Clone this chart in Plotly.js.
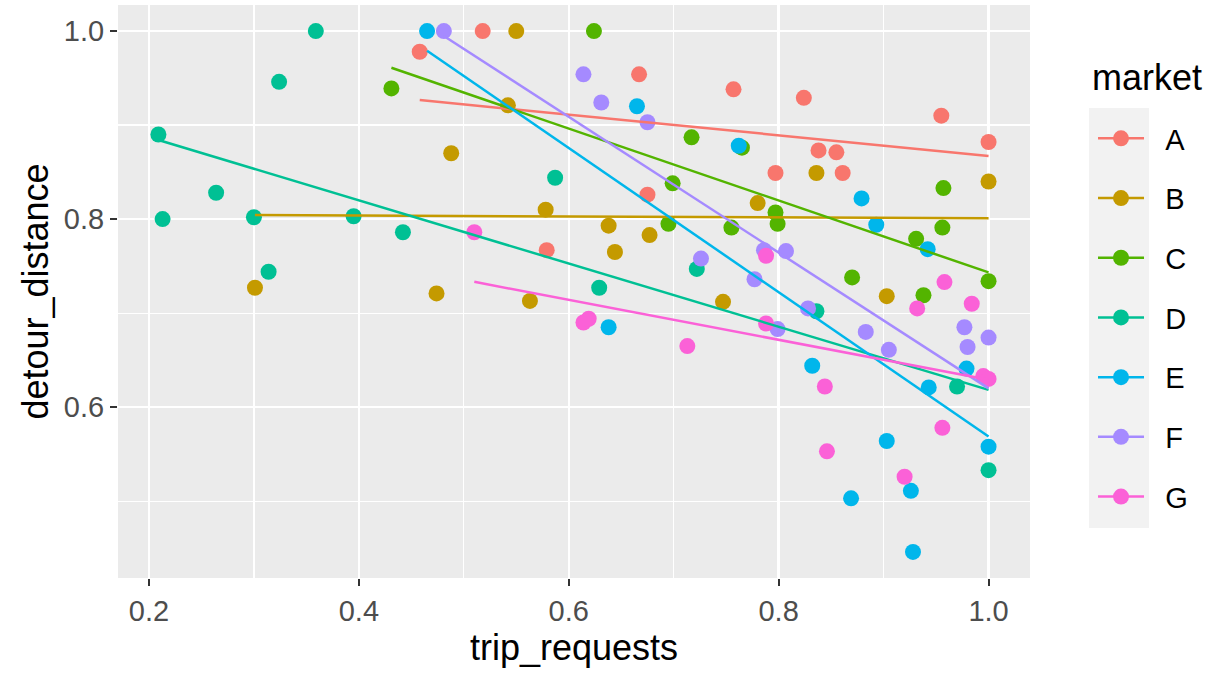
<!DOCTYPE html>
<html>
<head>
<meta charset="utf-8">
<script src="https://cdn.plot.ly/plotly-3.0.1.min.js"></script>
<style>html,body{margin:0;padding:0;background:#fff;}#chart{width:1216px;height:673px;}</style>
</head>
<body>
<div id="chart"></div>
<script>
const markets = ["A","B","C","D","E","F","G"];
const colors = ["#F8766D","#C49A00","#53B400","#00C094","#00B6EB","#A58AFF","#FB61D7"];

const xA = [0.458,0.518,0.667,0.757,0.675,0.579,0.824,0.955,1.0,0.838,0.855,0.797,0.861];
const yA = [0.978,1.0,0.954,0.938,0.826,0.767,0.929,0.910,0.882,0.873,0.871,0.849,0.849];

const xB = [0.301,0.550,0.542,0.488,0.578,0.638,0.677,0.644,0.474,0.563,0.747,0.836,1.0,0.780,0.903];
const yB = [0.727,1.0,0.921,0.870,0.810,0.793,0.783,0.765,0.721,0.713,0.712,0.849,0.840,0.817,0.718];

const xC = [0.431,0.624,0.717,0.699,0.695,0.755,0.765,0.957,0.797,0.799,0.956,0.931,1.0,0.870,0.938];
const yC = [0.939,1.0,0.887,0.838,0.795,0.791,0.876,0.833,0.807,0.795,0.791,0.779,0.734,0.738,0.719];

const xD = [0.359,0.324,0.209,0.264,0.213,0.300,0.395,0.442,0.314,0.587,0.722,0.629,0.836,0.970,1.0];
const yD = [1.0,0.946,0.890,0.828,0.800,0.802,0.803,0.786,0.744,0.844,0.747,0.727,0.702,0.622,0.533];

const xE = [0.465,0.665,0.762,0.879,0.893,0.942,0.638,0.832,0.979,0.943,0.903,1.0,0.926,0.869,0.928];
const yE = [1.0,0.920,0.878,0.822,0.794,0.768,0.685,0.644,0.641,0.621,0.564,0.558,0.511,0.503,0.446];

const xF = [0.481,0.614,0.631,0.675,0.726,0.786,0.807,0.777,0.828,0.799,0.883,0.977,1.0,0.905,0.980];
const yF = [1.0,0.954,0.924,0.903,0.758,0.767,0.766,0.736,0.705,0.683,0.680,0.685,0.674,0.661,0.664];

const xG = [0.510,0.614,0.619,0.713,0.788,0.958,0.984,0.932,0.788,0.995,1.0,0.844,0.956,0.846,0.920];
const yG = [0.786,0.690,0.694,0.665,0.761,0.733,0.710,0.705,0.689,0.633,0.630,0.622,0.578,0.553,0.526];

const xTickVals = [0.2,0.4,0.6,0.8,1.0];
const xTickText = ["0.2","0.4","0.6","0.8","1.0"];
const yTickVals = [0.6,0.8,1.0];
const yTickText = ["0.6","0.8","1.0"];

const xs = [xA,xB,xC,xD,xE,xF,xG];
const ys = [yA,yB,yC,yD,yE,yF,yG];

function lmFit(x, y){
  const n = x.length;
  const mx = x.reduce((a,b)=>a+b,0)/n, my = y.reduce((a,b)=>a+b,0)/n;
  let sxy=0, sxx=0;
  for(let i=0;i<n;i++){ sxy += (x[i]-mx)*(y[i]-my); sxx += (x[i]-mx)*(x[i]-mx); }
  const b = sxy/sxx, a = my - b*mx;
  const x0 = Math.min(...x), x1 = Math.max(...x);
  return {x:[x0,x1], y:[a+b*x0, a+b*x1]};
}

const font = "Liberation Sans, Arial, Helvetica, sans-serif";
const traces = [];
markets.forEach((m,i)=>{
  traces.push({type:"scatter", mode:"markers", x:xs[i], y:ys[i], name:m, showlegend:false,
    marker:{color:colors[i], size:16, line:{width:0}}, hoverinfo:"x+y"});
});
markets.forEach((m,i)=>{
  const f = lmFit(xs[i], ys[i]);
  traces.push({type:"scatter", mode:"lines", x:f.x, y:f.y, name:m, showlegend:false,
    line:{color:colors[i], width:2.5}, hoverinfo:"skip"});
});
markets.forEach((m,i)=>{
  traces.push({type:"scatter", mode:"lines+markers", x:[null], y:[null], name:"\u00A0\u00A0" + m, legendgroup:m,
    marker:{color:colors[i], size:16}, line:{color:colors[i], width:2.5}});
});

const layout = {
  width:1216, height:673,
  margin:{l:118, r:186, t:5, b:95},
  paper_bgcolor:"#FFFFFF", plot_bgcolor:"#EBEBEB",
  font:{family:font, color:"#000"},
  showlegend:true,
  xaxis:{range:[0.1705,1.0395], tickvals:xTickVals, ticktext:xTickText, showgrid:true,
    gridcolor:"#FFFFFF", gridwidth:2.5, zeroline:false, showline:false,
    ticks:"outside", ticklen:7, tickwidth:2, tickcolor:"#333333",
    tickfont:{size:29, color:"#4D4D4D", family:font},
    minor:{tickvals:[0.3,0.5,0.7,0.9], showgrid:true, gridcolor:"#FFFFFF", gridwidth:1.2, ticks:""},
    title:{text:"trip_requests", font:{size:36, color:"#000", family:font}, standoff:8}},
  yaxis:{range:[0.4183,1.0277], tickvals:yTickVals, ticktext:yTickText, showgrid:true,
    gridcolor:"#FFFFFF", gridwidth:2.5, zeroline:false, showline:false,
    ticks:"outside", ticklen:7, tickwidth:2, tickcolor:"#333333",
    tickfont:{size:29, color:"#4D4D4D", family:font},
    minor:{tickvals:[0.5,0.7,0.9], showgrid:true, gridcolor:"#FFFFFF", gridwidth:1.2, ticks:""},
    title:{text:"detour_distance", font:{size:36, color:"#000", family:font}, standoff:4}},
  legend:{x:1.0691, xanchor:"left", y:0.8115, yanchor:"top", bgcolor:"rgba(0,0,0,0)",
    font:{size:29, color:"#000", family:font}, tracegroupgap:19, itemwidth:46},
  annotations:[{text:"market", xref:"paper", yref:"paper", x:1.0658, y:0.8743, xanchor:"left", yanchor:"middle",
    showarrow:false, font:{size:36, color:"#000", family:font}}],
  shapes:[{type:"rect", xref:"paper", yref:"paper", x0:1.0647, x1:1.1305, y0:0.0873, y1:0.8202,
    fillcolor:"#F2F2F2", line:{width:0}, layer:"below"}]
};

Plotly.newPlot("chart", traces, layout, {displayModeBar:false, staticPlot:true});
</script>
</body>
</html>
